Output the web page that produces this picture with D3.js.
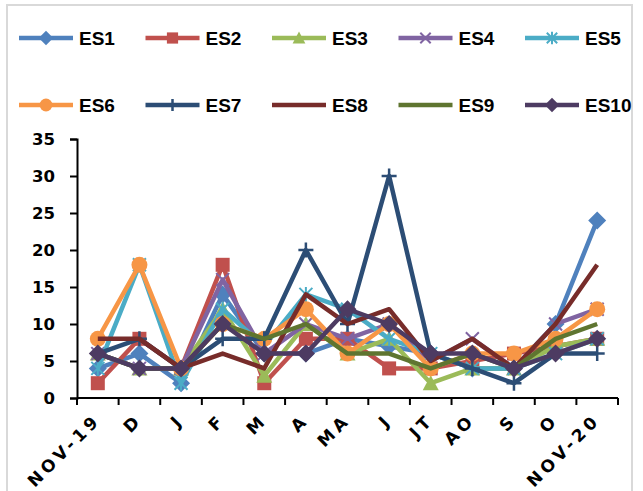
<!DOCTYPE html>
<html>
<head>
<meta charset="utf-8">
<script src="https://cdn.jsdelivr.net/npm/d3@7"></script>
<style>
  html, body { margin: 0; padding: 0; background: #fff; }
  svg { display: block; }
</style>
</head>
<body>
<svg id="chart" width="643" height="491"></svg>
<script>
// Monthly counts per station, Nov 2019 – Nov 2020
const months = ["NOV-19", "D", "J", "F", "M", "A", "MA", "J ", "JT", "AO", "S", "O", "NOV-20"];
const monthLabels = ["NOV-19", "D", "J", "F", "M", "A", "MA", "J", "JT", "AO", "S", "O", "NOV-20"];
const yTicks = [0, 5, 10, 15, 20, 25, 30, 35];

const seriesNames = ["ES1", "ES2", "ES3", "ES4", "ES5", "ES6", "ES7", "ES8", "ES9", "ES10"];
const es1  = [4, 6, 2, 14, 6, 6, 8, 7, 6, 4, 4, 10, 24];
const es2  = [2, 8, 4, 18, 2, 8, 8, 4, 4, 5, 6, 7, 8];
const es3  = [6, 4, 4, 12, 3, 10, 6, 8, 2, 4, 4, 7, 8];
const es4  = [6, 4, 4, 16, 6, 10, 8, 10, 5, 8, 4, 10, 12];
const es5  = [4, 18, 2, 12, 7, 14, 12, 8, 6, 4, 4, 6, 8];
const es6  = [8, 18, 4, 10, 8, 12, 6, 10, 4, 6, 6, 8, 12];
const es7  = [6, 8, 4, 8, 8, 20, 10, 30, 6, 4, 2, 6, 6];
const es8  = [8, 8, 4, 6, 4, 14, 10, 12, 5, 8, 4, 10, 18];
const es9  = [6, 4, 4, 10, 8, 10, 6, 6, 4, 6, 4, 8, 10];
const es10 = [6, 4, 4, 10, 6, 6, 12, 10, 6, 6, 4, 6, 8];
const seriesValues = [es1, es2, es3, es4, es5, es6, es7, es8, es9, es10];

const colors  = ["#4F81BD", "#C0504D", "#9BBB59", "#8064A2", "#4BACC6",
                 "#F79646", "#2C4D75", "#772C2A", "#5F7530", "#4D3B62"];
const markers = ["diamond", "square", "triangle", "x", "asterisk",
                 "circle", "plus", "none", "none", "diamond"];

const svg = d3.select("#chart");

// outer chart frame
svg.append("rect")
  .attr("x", 7).attr("y", 5).attr("width", 625).attr("height", 500)
  .attr("fill", "none").attr("stroke", "#d9d9d9").attr("stroke-width", 2);

const plot = { left: 77, right: 618, top: 139, bottom: 398 };

const x = d3.scaleBand().domain(months).range([plot.left, plot.right]).paddingInner(0).paddingOuter(0);
const y = d3.scaleLinear().domain([0, 35]).range([plot.bottom, plot.top]);
const cx = m => x(m) + x.bandwidth() / 2;

// marker drawing
function drawMarker(g, type, color, px, py, s) {
  const k = s || 1;
  if (type === "diamond") {
    g.append("path").attr("transform", `translate(${px},${py})`)
      .attr("d", `M0,${-9*k}L${9*k},0L0,${9*k}L${-9*k},0Z`).attr("fill", color);
  } else if (type === "square") {
    g.append("rect").attr("x", px - 7*k).attr("y", py - 7*k)
      .attr("width", 14*k).attr("height", 14*k).attr("fill", color);
  } else if (type === "triangle") {
    g.append("path").attr("transform", `translate(${px},${py})`)
      .attr("d", `M0,${-8*k}L${8*k},${7*k}L${-8*k},${7*k}Z`).attr("fill", color);
  } else if (type === "circle") {
    g.append("circle").attr("cx", px).attr("cy", py).attr("r", 8*k).attr("fill", color);
  } else if (type === "x") {
    const r = 6.5*k;
    g.append("path").attr("d", `M${px-r},${py-r}L${px+r},${py+r}M${px-r},${py+r}L${px+r},${py-r}`)
      .attr("stroke", color).attr("stroke-width", 2).attr("fill", "none");
  } else if (type === "asterisk") {
    const r = 6.5*k;
    g.append("path").attr("d", `M${px-r},${py-r}L${px+r},${py+r}M${px-r},${py+r}L${px+r},${py-r}M${px},${py-r-1}L${px},${py+r+1}`)
      .attr("stroke", color).attr("stroke-width", 2).attr("fill", "none");
  } else if (type === "plus") {
    const r = 7.5*k;
    g.append("path").attr("d", `M${px-r},${py}L${px+r},${py}M${px},${py-r}L${px},${py+r}`)
      .attr("stroke", color).attr("stroke-width", 2.5).attr("fill", "none");
  }
}

// axes
const yAxis = d3.axisLeft(y).tickValues(yTicks).tickSize(7).tickPadding(15);
const gy = svg.append("g").attr("transform", `translate(${plot.left},0)`).call(yAxis);
gy.select(".domain").attr("stroke", "#000").attr("stroke-width", 2);
gy.selectAll(".tick line").attr("stroke", "#000").attr("stroke-width", 2);
gy.selectAll(".tick text")
  .attr("font-family", "'DejaVu Sans', Verdana, sans-serif")
  .attr("font-weight", "bold").attr("font-size", 16.5).attr("fill", "#000");

const gx = svg.append("g").attr("transform", `translate(0,${plot.bottom})`);
gx.append("line").attr("x1", plot.left).attr("x2", plot.right).attr("y1", 0).attr("y2", 0)
  .attr("stroke", "#000").attr("stroke-width", 2);
const boundaries = months.map(m => x(m)).concat([plot.right]);
gx.selectAll("line.tk").data(boundaries).enter().append("line").attr("class", "tk")
  .attr("x1", d => d).attr("x2", d => d).attr("y1", 0).attr("y2", 7)
  .attr("stroke", "#000").attr("stroke-width", 2);
gx.selectAll("text").data(months).enter().append("text")
  .attr("transform", m => `translate(${cx(m) + 4},${23}) rotate(-45)`)
  .attr("text-anchor", "end")
  .attr("font-family", "'DejaVu Sans', Verdana, sans-serif")
  .attr("font-weight", "bold").attr("font-size", 17)
  .attr("letter-spacing", 4)
  .attr("fill", "#000")
  .text((m, i) => monthLabels[i]);

// series lines and markers
const line = d3.line().x((d, i) => cx(months[i])).y(d => y(d));
seriesNames.forEach((name, s) => {
  const g = svg.append("g").attr("class", "series");
  g.append("path").datum(seriesValues[s]).attr("d", line)
    .attr("fill", "none").attr("stroke", colors[s]).attr("stroke-width", 4.5)
    .attr("stroke-linejoin", "round");
  seriesValues[s].forEach((v, i) => drawMarker(g, markers[s], colors[s], cx(months[i]), y(v)));
});

// legend, two rows of five
const legend = svg.append("g");
seriesNames.forEach((name, s) => {
  const col = s % 5, row = Math.floor(s / 5);
  const lx = 19 + col * 126.5, ly = 38 + row * 67;
  const g = legend.append("g");
  g.append("line").attr("x1", lx).attr("x2", lx + 54).attr("y1", ly).attr("y2", ly)
    .attr("stroke", colors[s]).attr("stroke-width", 4.5);
  drawMarker(g, markers[s], colors[s], lx + 27, ly, 0.8);
  g.append("text").attr("x", lx + 60).attr("y", ly).attr("dy", "0.36em")
    .attr("font-family", "'Liberation Sans Narrow', 'Arial Narrow', sans-serif")
    .attr("font-weight", "bold").attr("font-size", 19).attr("fill", "#000")
    .text(name);
});
</script>
</body>
</html>
